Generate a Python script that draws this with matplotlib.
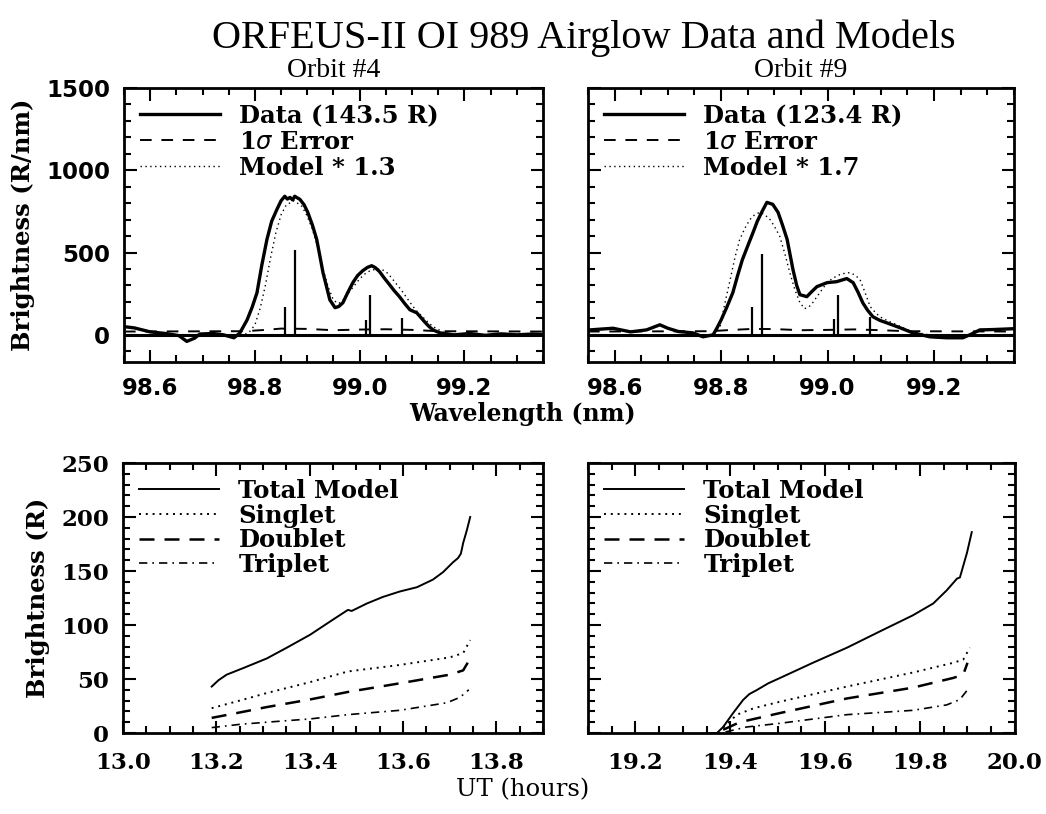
import matplotlib
matplotlib.use("Agg")
import matplotlib.pyplot as plt
from matplotlib.ticker import MultipleLocator
import numpy as np

# ---- orbit 4 spectrum (nm, R/nm) ----
wl_data4 = [98.552, 98.57, 98.60, 98.63, 98.655, 98.67, 98.685, 98.695, 98.72, 98.74,
            98.76, 98.771, 98.785, 98.795, 98.804, 98.813, 98.823, 98.832, 98.842, 98.85,
            98.857, 98.862, 98.867, 98.872, 98.876, 98.886, 98.894, 98.901, 98.91, 98.918,
            98.924, 98.930, 98.937, 98.943, 98.953, 98.96, 98.968, 98.977, 98.987, 98.996,
            99.006, 99.015, 99.023, 99.03, 99.038, 99.047, 99.057, 99.066, 99.076, 99.086,
            99.096, 99.109, 99.124, 99.132, 99.140, 99.153, 99.18, 99.21, 99.24, 99.27,
            99.30, 99.33, 99.35]
br_data4 = [49, 42, 18, 8, -5, -40, -20, 5, 8, 0,
            -18, 10, 90, 170, 256, 420, 580, 690, 762, 815,
            842, 825, 835, 820, 842, 823, 790, 744, 665, 580,
            480, 378, 290, 213, 165, 172, 195, 255, 317, 360,
            390, 410, 420, 408, 384, 345, 305, 268, 232, 190,
            152, 134, 79, 52, 30, 12, 0, 8, -3, 6,
            0, 5, 2]
wl_model4 = [98.55, 98.78, 98.79, 98.80, 98.81, 98.82, 98.83, 98.84, 98.85, 98.86,
             98.875, 98.89, 98.90, 98.91, 98.92, 98.93, 98.94, 98.95, 98.96, 98.97,
             98.98, 98.99, 99.00, 99.01, 99.02, 99.03, 99.04, 99.05, 99.06, 99.07,
             99.08, 99.09, 99.10, 99.11, 99.12, 99.13, 99.14, 99.16, 99.18, 99.35]
br_model4 = [0, 0, 20, 60, 160, 300, 470, 620, 730, 790,
             815, 780, 720, 640, 530, 400, 290, 210, 190, 215,
             260, 300, 340, 370, 390, 398, 400, 385, 350, 310,
             270, 225, 180, 140, 110, 78, 50, 15, 0, 0]
wl_err4 = [98.55, 98.78, 98.82, 98.85, 98.90, 98.95, 99.00, 99.05, 99.10, 99.15, 99.35]
br_err4 = [20, 22, 30, 38, 36, 28, 32, 34, 30, 22, 20]

# ---- orbit 9 spectrum ----
wl_data9 = [98.554, 98.575, 98.597, 98.63, 98.66, 98.685, 98.70, 98.72, 98.747, 98.766,
            98.785, 98.792, 98.80, 98.811, 98.822, 98.831, 98.84, 98.85, 98.86, 98.868,
            98.877, 98.886, 98.897, 98.907, 98.915, 98.924, 98.935, 98.942, 98.948, 98.961,
            98.97, 98.98, 98.999, 99.017, 99.036, 99.048, 99.057, 99.066, 99.075, 99.085,
            99.098, 99.111, 99.136, 99.16, 99.192, 99.224, 99.254, 99.267, 99.286, 99.31,
            99.348]
br_data9 = [30, 35, 40, 18, 30, 61, 40, 20, 12, -12,
            0, 40, 90, 170, 256, 360, 457, 540, 622, 690,
            750, 805, 793, 744, 670, 580, 396, 300, 244, 232,
            262, 293, 317, 323, 342, 317, 260, 195, 150, 110,
            88, 73, 43, 12, -12, -18, -18, 0, 30, 32,
            37]
wl_model9 = [98.55, 98.785, 98.798, 98.807, 98.817, 98.826, 98.835, 98.845, 98.854, 98.863,
             98.873, 98.882, 98.892, 98.90, 98.91, 98.92, 98.929, 98.938, 98.948, 98.957,
             98.965, 98.972, 98.985, 98.999, 99.01, 99.023, 99.032, 99.042, 99.052, 99.061,
             99.07, 99.08, 99.09, 99.098, 99.113, 99.13, 99.145, 99.16, 99.19, 99.35]
br_model9 = [0, 0, 50, 190, 335, 470, 580, 650, 700, 730,
             745, 730, 700, 660, 600, 490, 378, 280, 195, 159,
             170, 195, 255, 317, 345, 366, 374, 378, 362, 335,
             260, 171, 135, 110, 85, 61, 38, 18, 0, 0]
wl_err9 = [98.55, 98.78, 98.82, 98.86, 98.90, 98.95, 99.00, 99.05, 99.10, 99.15, 99.35]
br_err9 = [20, 22, 30, 36, 35, 28, 30, 33, 28, 22, 20]

# OI multiplet stick lines
wl_lines = [98.8578, 98.8773, 99.0127, 99.0204, 99.0801]
h_lines4 = [171, 518, 92, 244, 104]
h_lines9 = [171, 494, 98, 244, 110]

# ---- model brightness vs UT ----
ut4 = [13.19, 13.205, 13.222, 13.257, 13.308, 13.351, 13.401, 13.45, 13.482, 13.49,
       13.523, 13.557, 13.593, 13.63, 13.664, 13.686, 13.707, 13.718, 13.724, 13.729,
       13.737, 13.744]
total4 = [43, 49, 54, 60, 69, 79, 91, 105, 114, 113,
          120, 126, 131, 135, 142, 149, 158, 162, 166, 176,
          188, 200]
ut4s = [13.19, 13.25, 13.308, 13.40, 13.482, 13.593, 13.70, 13.729, 13.744]
singlet4 = [23, 30, 37, 47, 57, 63, 70, 74, 86]
doublet4 = [14, 19, 24, 31, 38, 46, 54, 58, 69]
ut4t = [13.19, 13.25, 13.308, 13.40, 13.482, 13.593, 13.694, 13.722, 13.741]
triplet4 = [5, 8, 10, 13, 17, 21, 28, 33, 40]

ut9 = [19.36, 19.372, 19.385, 19.406, 19.427, 19.44, 19.456, 19.48, 19.505, 19.574,
       19.646, 19.715, 19.785, 19.828, 19.856, 19.878, 19.884, 19.899, 19.909]
total9 = [0, 0, 5.6, 18.5, 30.6, 36, 39.8, 46, 51, 65,
          79, 94, 109, 120, 132, 143, 144, 167, 186]
ut9s = [19.385, 19.414, 19.45, 19.505, 19.646, 19.785, 19.87, 19.891, 19.905]
singlet9 = [5, 17, 23, 29, 43, 56, 65, 68, 79]
ut9d = [19.385, 19.42, 19.46, 19.505, 19.646, 19.785, 19.87, 19.891, 19.90]
doublet9 = [3, 10, 14, 18.5, 32, 42, 51, 54, 65]
ut9t = [19.39, 19.435, 19.505, 19.646, 19.785, 19.856, 19.884, 19.90]
triplet9 = [1, 5.6, 9, 17, 21, 26, 31, 40]

SERIF = "DejaVu Serif"
plt.rcParams['font.family'] = SERIF

fig = plt.figure(figsize=(10.46, 8.14), dpi=100)

def style_axes(ax, xmaj, xmin, ymaj, ymin, tickfont, xpad):
    ax.xaxis.set_major_locator(MultipleLocator(xmaj))
    ax.xaxis.set_minor_locator(MultipleLocator(xmin))
    ax.yaxis.set_major_locator(MultipleLocator(ymaj))
    ax.yaxis.set_minor_locator(MultipleLocator(ymin))
    ax.tick_params(which='both', direction='in', top=True, right=True, width=1.5, pad=10)
    ax.tick_params(axis='x', which='both', pad=xpad)
    ax.tick_params(which='major', length=9)
    ax.tick_params(which='minor', length=5)
    for s in ax.spines.values():
        s.set_linewidth(2)
    for lab in ax.get_xticklabels() + ax.get_yticklabels():
        lab.set_fontfamily(tickfont)
        lab.set_fontweight('bold')
        lab.set_fontsize(16.5)

legend_font = {'family': SERIF, 'weight': 'bold', 'size': 17.5}

def spectrum(ax, wd, bd, wm, bm, we, be, hl, labels):
    ax.axhline(0, color='k', lw=2.2)
    ax.vlines(wl_lines, 0, hl, color='k', lw=1.6)
    ax.plot(wd, bd, color='k', lw=2.4, label=labels[0])
    ax.plot(we, be, color='k', lw=1.4, ls=(0, (6, 5)), label=labels[1])
    ax.plot(wm, bm, color='k', lw=1.0, ls=(0, (1, 2.5)), label=labels[2])
    ax.set_xlim(98.55, 99.35)
    ax.set_ylim(-165, 1500)
    style_axes(ax, 0.2, 0.05, 500, 100, 'DejaVu Sans', 11)
    ax.legend(loc='upper left', frameon=False, handlelength=3.3, handletextpad=0.8,
              labelspacing=0.08, borderaxespad=0.25, prop=legend_font)

def timeplot(ax, ut, tot, uts, sg, utd, db, utt, tr, xlim, labels):
    ax.plot(ut, tot, color='k', lw=1.4, label=labels[0])
    ax.plot(uts, sg, color='k', lw=1.4, ls=(0, (1, 2.5)), label=labels[1])
    ax.plot(utd, db, color='k', lw=1.8, ls=(0, (6, 4)), label=labels[2])
    ax.plot(utt, tr, color='k', lw=1.2, ls=(0, (5, 3, 1, 3)), label=labels[3])
    ax.set_xlim(*xlim)
    ax.set_ylim(0, 250)
    style_axes(ax, 0.2, 0.05, 50, 10, SERIF, 14)
    ax.legend(loc='upper left', frameon=False, handlelength=3.3, handletextpad=0.8,
              labelspacing=0.03, borderaxespad=0.25, prop=legend_font)

spec_labels4 = ["Data (143.5 R)", r"1$\sigma$ Error", "Model * 1.3"]
spec_labels9 = ["Data (123.4 R)", r"1$\sigma$ Error", "Model * 1.7"]
time_labels = ["Total Model", "Singlet", "Doublet", "Triplet"]

ax1 = fig.add_axes([0.1185, 0.5553, 0.4006, 0.3366])
spectrum(ax1, wl_data4, br_data4, wl_model4, br_model4, wl_err4, br_err4, h_lines4, spec_labels4)
ax1.set_ylabel("Brightness (R/nm)", fontsize=17.5, fontweight='bold', labelpad=8)
ax1.set_title("Orbit #4", fontsize=20, fontfamily='Liberation Serif', pad=8)

ax2 = fig.add_axes([0.5621, 0.5553, 0.4073, 0.3366])
spectrum(ax2, wl_data9, br_data9, wl_model9, br_model9, wl_err9, br_err9, h_lines9, spec_labels9)
ax2.set_yticklabels([])
ax2.set_title("Orbit #9", fontsize=20, fontfamily='Liberation Serif', pad=8)

ax3 = fig.add_axes([0.1176, 0.0995, 0.4015, 0.3317])
timeplot(ax3, ut4, total4, ut4s, singlet4, ut4s, doublet4, ut4t, triplet4, (13.0, 13.9), time_labels)
ax3.set_ylabel("Brightness (R)", fontsize=17.5, fontweight='bold', labelpad=8)

ax4 = fig.add_axes([0.5621, 0.0995, 0.4082, 0.3317])
timeplot(ax4, ut9, total9, ut9s, singlet9, ut9d, doublet9, ut9t, triplet9, (19.1, 20.0), time_labels)
ax4.set_yticklabels([])

fig.text(0.558, 0.953, "ORFEUS-II OI 989 Airglow Data and Models", ha='center', va='center',
         fontsize=29, fontfamily='Liberation Serif')
fig.text(0.5, 0.491, "Wavelength (nm)", ha='center', va='center', fontsize=17, fontweight='bold')
fig.text(0.5, 0.030, "UT (hours)", ha='center', va='center', fontsize=17.5)

fig.savefig("out.png", dpi=100)
